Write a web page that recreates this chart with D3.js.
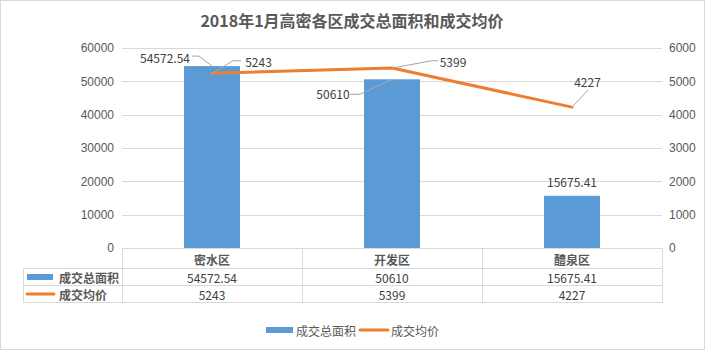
<!DOCTYPE html>
<html><head><meta charset="utf-8">
<script src="https://cdn.jsdelivr.net/npm/d3@7/dist/d3.min.js"></script>
<style>
html,body{margin:0;padding:0;background:#fff;}
svg{display:block;font-family:"Noto Sans CJK SC","Noto Sans",sans-serif;}
</style></head>
<body><svg id="c" width="705" height="350"></svg>
<script>
const title = "2018年1月高密各区成交总面积和成交均价";
const categories = ["密水区", "开发区", "醴泉区"];
const areaName = "成交总面积";
const priceName = "成交均价";
const areaValues = [54572.54, 50610, 15675.41];
const priceValues = [5243, 5399, 4227];
const leftTicks = [0, 10000, 20000, 30000, 40000, 50000, 60000];
const rightTicks = [0, 1000, 2000, 3000, 4000, 5000, 6000];

// label placement (offsets from the anchor point), not data
const barLabelOff = [{dx:-47,dy:-9,lead:[[-13,-10],[-20,-10]]},{dx:-59,dy:14,lead:[[-32,15],[-42,15]]},{dx:0,dy:-14,lead:null}];
const lineLabelOff = [{dx:46.5,dy:-12,lead:[[21,-12.5],[29,-12.5]]},{dx:61,dy:-7,lead:[[40,-7.3],[46,-7.3]]},{dx:15.5,dy:-26,lead:[[16,-17]]}];

const W = 705, H = 350;
const plot = {l:122, r:662, t:48, b:248};
const blue = "#5B9BD5", orange = "#ED7D31", grid = "#D9D9D9", txt = "#595959", dark = "#404040";

const svg = d3.select("#c");
svg.append("rect").attr("x",0.5).attr("y",0.5).attr("width",W-1).attr("height",H-1)
  .attr("fill","#fff").attr("stroke","#D9D9D9");

svg.append("text").attr("x",352).attr("y",20).attr("text-anchor","middle").attr("dominant-baseline","central")
  .attr("font-size",16).attr("font-weight","bold").attr("fill",txt).text(title);

const x = d3.scaleBand().domain(categories).range([plot.l, plot.r]).padding(0);
const yL = d3.scaleLinear().domain([0,60000]).range([plot.b, plot.t]);
const yR = d3.scaleLinear().domain([0,6000]).range([plot.b, plot.t]);
const barW = x.bandwidth()*0.311;

// gridlines
svg.append("g").selectAll("line").data(leftTicks).join("line")
  .attr("x1",plot.l).attr("x2",plot.r).attr("y1",d=>Math.round(yL(d))+0.5).attr("y2",d=>Math.round(yL(d))+0.5)
  .attr("stroke",grid).attr("stroke-width",1);

// axes (text only)
const axL = d3.axisLeft(yL).tickValues(leftTicks).tickSize(0).tickPadding(8).tickFormat(d3.format("d"));
const gL = svg.append("g").attr("transform",`translate(${plot.l-0},0)`).call(axL);
gL.select(".domain").remove();
gL.selectAll("text").attr("font-size",12).attr("fill",txt).attr("font-family",null);
const axR = d3.axisRight(yR).tickValues(rightTicks).tickSize(0).tickPadding(7).tickFormat(d3.format("d"));
const gR = svg.append("g").attr("transform",`translate(${plot.r},0)`).call(axR);
gR.select(".domain").remove();
gR.selectAll("text").attr("font-size",12).attr("fill",txt).attr("font-family",null);

// bars
svg.append("g").selectAll("rect").data(areaValues).join("rect")
  .attr("x",(d,i)=>x(categories[i])+x.bandwidth()/2-barW/2)
  .attr("width",barW)
  .attr("y",d=>yL(d)).attr("height",d=>plot.b-yL(d))
  .attr("fill",blue);

// line
const cx = i => x(categories[i])+x.bandwidth()/2;
const line = d3.line().x((d,i)=>cx(i)).y(d=>yR(d));
svg.append("path").datum(priceValues).attr("d",line).attr("fill","none")
  .attr("stroke",orange).attr("stroke-width",3).attr("stroke-linecap","round").attr("stroke-linejoin","round");

// data labels
function leader(ax, ay, pts){
  const p = d3.path(); p.moveTo(ax,ay); pts.forEach(q=>p.lineTo(ax+q[0], ay+q[1]));
  svg.append("path").attr("d",p.toString()).attr("fill","none").attr("stroke","#A6A6A6").attr("stroke-width",1);
}
areaValues.forEach((v,i)=>{
  const ax = cx(i), ay = yL(v), o = barLabelOff[i];
  if (o.lead) leader(ax, ay, o.lead);
  svg.append("text").attr("x",ax+o.dx).attr("y",ay+o.dy).attr("text-anchor","middle").attr("dominant-baseline","central")
    .attr("font-size",12).attr("fill",dark).text(v);
});
priceValues.forEach((v,i)=>{
  const ax = cx(i), ay = yR(v), o = lineLabelOff[i];
  if (o.lead) leader(ax, ay, o.lead);
  svg.append("text").attr("x",ax+o.dx).attr("y",ay+o.dy).attr("text-anchor","middle").attr("dominant-baseline","central")
    .attr("font-size",12).attr("fill",dark).text(v);
});

// data table
const tl = 23, rowY = [plot.b, 268, 285, 302];
const tg = svg.append("g");
const hl = (x1,x2,y)=>tg.append("line").attr("x1",x1).attr("x2",x2).attr("y1",y+0.5).attr("y2",y+0.5).attr("stroke",grid);
const vl = (xx,y1,y2)=>tg.append("line").attr("x1",xx+0.5).attr("x2",xx+0.5).attr("y1",y1).attr("y2",y2).attr("stroke",grid);
hl(tl, plot.r, rowY[1]); hl(tl, plot.r, rowY[2]); hl(tl, plot.r, rowY[3]);
[plot.l, plot.l+x.bandwidth(), plot.l+2*x.bandwidth(), plot.r].forEach(xx=>vl(xx, rowY[0], rowY[3]+0.5));
vl(tl, rowY[1], rowY[3]+0.5);
categories.forEach((c,i)=>{
  tg.append("text").attr("x",cx(i)).attr("y",(rowY[0]+rowY[1])/2+1).attr("text-anchor","middle").attr("dominant-baseline","central")
    .attr("font-size",12).attr("font-weight","bold").attr("fill",txt).text(c);
  tg.append("text").attr("x",cx(i)).attr("y",(rowY[1]+rowY[2])/2+1).attr("text-anchor","middle").attr("dominant-baseline","central")
    .attr("font-size",12).attr("fill",dark).text(areaValues[i]);
  tg.append("text").attr("x",cx(i)).attr("y",(rowY[2]+rowY[3])/2+1).attr("text-anchor","middle").attr("dominant-baseline","central")
    .attr("font-size",12).attr("fill",dark).text(priceValues[i]);
});
tg.append("rect").attr("x",27).attr("y",274).attr("width",26).attr("height",6).attr("fill",blue);
tg.append("text").attr("x",59).attr("y",(rowY[1]+rowY[2])/2+1).attr("dominant-baseline","central")
  .attr("font-size",12).attr("font-weight","bold").attr("fill",txt).text(areaName);
tg.append("line").attr("x1",27).attr("x2",54).attr("y1",294).attr("y2",294).attr("stroke",orange).attr("stroke-width",3).attr("stroke-linecap","round");
tg.append("text").attr("x",59).attr("y",(rowY[2]+rowY[3])/2+1).attr("dominant-baseline","central")
  .attr("font-size",12).attr("font-weight","bold").attr("fill",txt).text(priceName);

// legend
const lg = svg.append("g");
lg.append("rect").attr("x",266).attr("y",327).attr("width",27).attr("height",6).attr("fill",blue);
lg.append("text").attr("x",296).attr("y",330).attr("dominant-baseline","central").attr("font-size",12).attr("fill",txt).text(areaName);
lg.append("line").attr("x1",360).attr("x2",388).attr("y1",330).attr("y2",330).attr("stroke",orange).attr("stroke-width",3).attr("stroke-linecap","round");
lg.append("text").attr("x",391).attr("y",330).attr("dominant-baseline","central").attr("font-size",12).attr("fill",txt).text(priceName);
</script></body></html>
